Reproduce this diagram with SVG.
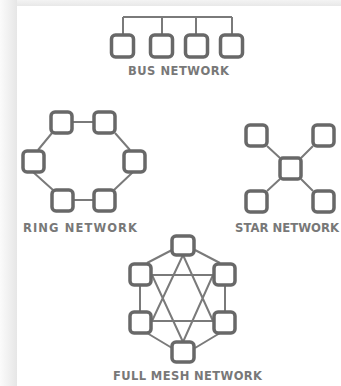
<svg xmlns="http://www.w3.org/2000/svg" width="341" height="386" viewBox="0 0 341 386">
<defs>
<linearGradient id="lg" x1="0" y1="0" x2="1" y2="0">
<stop offset="0" stop-color="#fbfbfb"/>
<stop offset="1" stop-color="#e6e6e6"/>
</linearGradient>
<linearGradient id="tg" x1="0" y1="0" x2="0" y2="1">
<stop offset="0" stop-color="#f3f3f3"/>
<stop offset="1" stop-color="#e8e8e8"/>
</linearGradient>
</defs>
<style>
.n{fill:#ffffff;stroke:#686868;stroke-width:3.5}
.e{fill:none;stroke:#7a7a7a;stroke-width:2}
.t{font-family:"DejaVu Sans",Verdana,sans-serif;font-weight:bold;font-size:11.5px;fill:#787878}
</style>
<rect x="0" y="0" width="341" height="386" fill="#ffffff"/>
<rect x="0" y="0" width="341" height="6" fill="url(#tg)"/>
<rect x="0" y="0" width="17" height="386" fill="url(#lg)"/>

<g id="connectors">
<!-- bus -->
<path class="e" d="M123,17H232M123,17V35M162,17V35M196,17V35M232,17V35"/>
<!-- ring -->
<path class="e" d="M72,122H93M52,133L38,150M33,172L53,190M73,200H94M115,133L130,150M133,172L114,190"/>
<!-- star -->
<path class="e" d="M267,146L280,158M313,146L301,158M267,191L280,179M313,191L301,179"/>
<!-- mesh -->
<path class="e" d="M172,250L147,263M195,250L220,263M140,285V312M225,285V312M147,333L172,348M220,333L195,348"/>
<path class="e" d="M152,275H213M152,321H213"/>
<path class="e" d="M183,255L152,321M183,255L213,321M183,342L152,275M183,342L213,275"/>
</g>

<g id="bus-n1"><rect class="n" x="111.5" y="35" width="22" height="22" rx="4"/></g>
<g id="bus-n2"><rect class="n" x="150.5" y="35" width="22" height="22" rx="4"/></g>
<g id="bus-n3"><rect class="n" x="185.5" y="35" width="22" height="22" rx="4"/></g>
<g id="bus-n4"><rect class="n" x="220.5" y="35" width="22" height="22" rx="4"/></g>
<g id="bus-label"><text class="t" x="128" y="75" textLength="101" lengthAdjust="spacing">BUS NETWORK</text></g>

<g id="ring-n1"><rect class="n" x="51" y="112" width="21" height="21" rx="4"/></g>
<g id="ring-n2"><rect class="n" x="94" y="112" width="21" height="21" rx="4"/></g>
<g id="ring-n3"><rect class="n" x="23" y="151" width="21" height="21" rx="4"/></g>
<g id="ring-n4"><rect class="n" x="124" y="151" width="21" height="21" rx="4"/></g>
<g id="ring-n5"><rect class="n" x="52" y="190" width="21" height="21" rx="4"/></g>
<g id="ring-n6"><rect class="n" x="94" y="190" width="21" height="21" rx="4"/></g>
<g id="ring-label"><text class="t" x="23" y="232" textLength="114" lengthAdjust="spacing">RING NETWORK</text></g>

<g id="star-n1"><rect class="n" x="246" y="125" width="21" height="21" rx="4"/></g>
<g id="star-n2"><rect class="n" x="313" y="125" width="21" height="21" rx="4"/></g>
<g id="star-center"><rect class="n" x="280" y="158" width="21" height="21" rx="3"/></g>
<g id="star-n3"><rect class="n" x="246" y="191" width="21" height="21" rx="4"/></g>
<g id="star-n4"><rect class="n" x="313" y="191" width="21" height="21" rx="4"/></g>
<g id="star-label"><text class="t" x="235" y="232" textLength="104" lengthAdjust="spacingAndGlyphs">STAR NETWORK</text></g>

<g id="mesh-top"><rect class="n" x="172" y="236" width="22" height="19" rx="4"/></g>
<g id="mesh-ul"><rect class="n" x="130" y="264" width="21" height="21" rx="4"/></g>
<g id="mesh-ur"><rect class="n" x="214" y="264" width="21" height="21" rx="4"/></g>
<g id="mesh-ll"><rect class="n" x="130" y="312" width="21" height="21" rx="4"/></g>
<g id="mesh-lr"><rect class="n" x="214" y="312" width="21" height="21" rx="4"/></g>
<g id="mesh-bottom"><rect class="n" x="172" y="342" width="22" height="20" rx="4"/></g>
<g id="mesh-label"><text class="t" x="113" y="380" textLength="149" lengthAdjust="spacing">FULL MESH NETWORK</text></g>
</svg>
